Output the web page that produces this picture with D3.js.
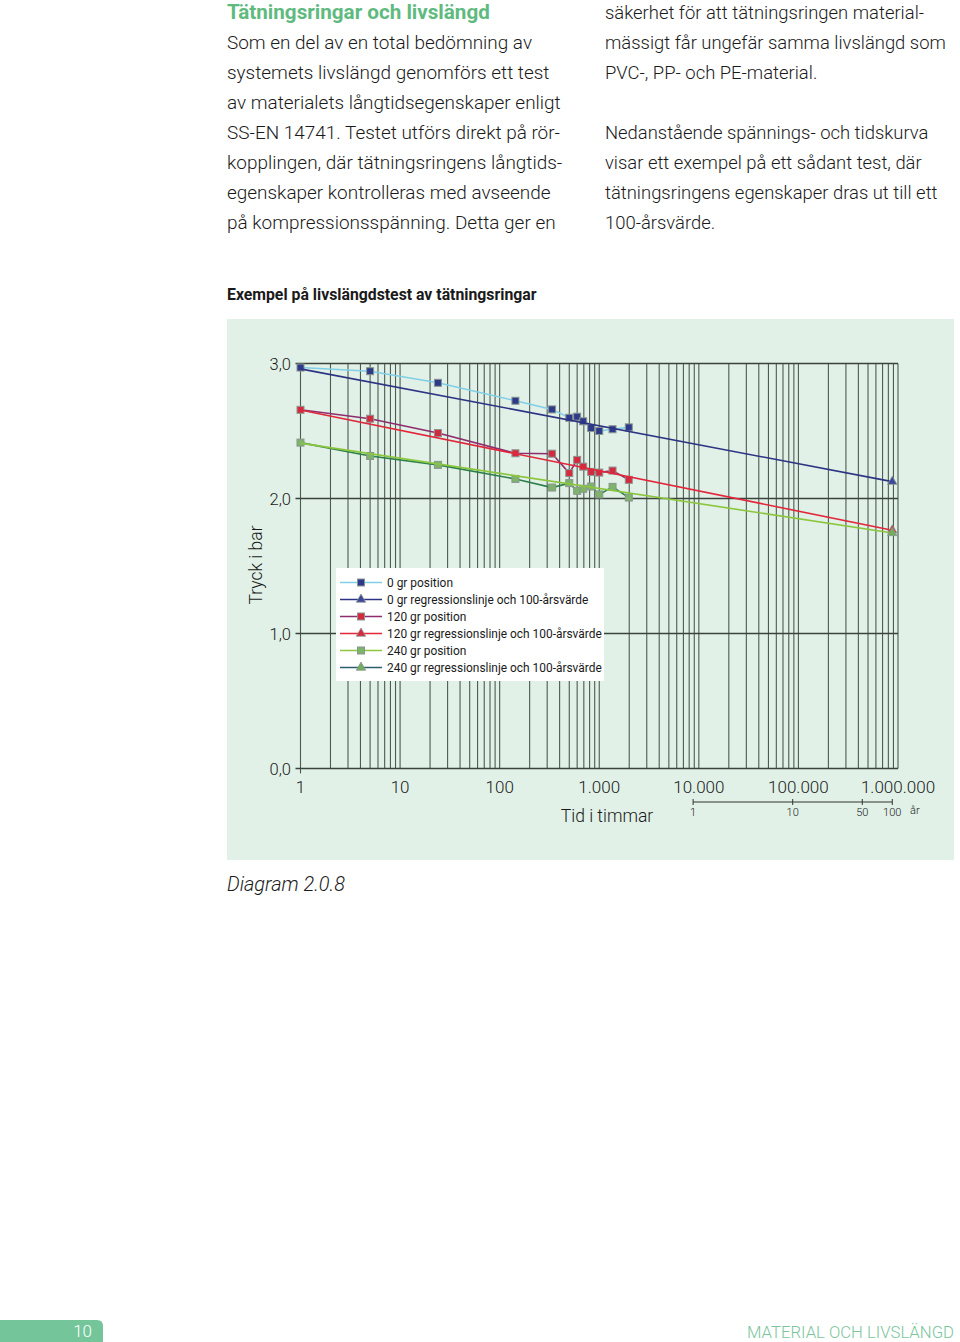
<!DOCTYPE html>
<html><head><meta charset="utf-8">
<script src="https://cdn.jsdelivr.net/npm/d3@7"></script>
<style>body{margin:0;background:#fff}svg{display:block}</style>
</head><body>
<script>
// ---------- DATA ----------
const hours   = [1, 5, 24, 144, 336, 500, 600, 690, 830, 1000, 1360, 1980];
const pos0    = [2.970, 2.943, 2.857, 2.724, 2.660, 2.598, 2.606, 2.572, 2.522, 2.500, 2.513, 2.527];
const pos120  = [2.657, 2.591, 2.485, 2.335, 2.332, 2.188, 2.286, 2.236, 2.197, 2.192, 2.207, 2.138];
const pos240  = [2.414, 2.315, 2.249, 2.145, 2.081, 2.114, 2.057, 2.072, 2.089, 2.030, 2.086, 2.007];
const regHours = [1, 876000];
const reg0    = [2.960, 2.125];
const reg120  = [2.655, 1.765];
const reg240  = [2.410, 1.745];
const yTicks = [0, 1, 2, 3];
const yTickLabels = ["0,0", "1,0", "2,0", "3,0"];
const xTicks = [1, 10, 100, 1000, 10000, 100000, 1000000];
const xTickLabels = ["1", "10", "100", "1.000", "10.000", "100.000", "1.000.000"];
const yearTicks = [1, 10, 50, 100];
const yearTickLabels = ["1", "10", "50", "100"];
const hoursPerYear = 8760;
const legendLabels = [
  "0 gr position",
  "0 gr regressionslinje och 100-årsvärde",
  "120 gr position",
  "120 gr regressionslinje och 100-årsvärde",
  "240 gr position",
  "240 gr regressionslinje och 100-årsvärde"
];
const leftText = [
  "Som en del av en total bedömning av",
  "systemets livslängd genomförs ett test",
  "av materialets långtidsegenskaper enligt",
  "SS-EN 14741. Testet utförs direkt på rör-",
  "kopplingen, där tätningsringens långtids-",
  "egenskaper kontrolleras med avseende",
  "på kompressionsspänning. Detta ger en"
];
const rightText = [
  "säkerhet för att tätningsringen material-",
  "mässigt får ungefär samma livslängd som",
  "PVC-, PP- och PE-material.",
  "",
  "Nedanstående spännings- och tidskurva",
  "visar ett exempel på ett sådant test, där",
  "tätningsringens egenskaper dras ut till ett",
  "100-årsvärde."
];

// ---------- STYLE ----------
const FONT = "Roboto, 'Open Sans', 'Noto Sans', sans-serif";
const GREEN = "#5fba7f";
const series = [
  {vals: pos0,   hrs: hours,    line: "#7fcfe8", fill: "#2d3a8a", marker: "square", legLine: "#7fcfe8"},
  {vals: reg0,   hrs: regHours, line: "#2c3483", fill: "#3c4898", marker: "triangle", legLine: "#2c3483", endOnly: true},
  {vals: pos120, hrs: hours,    line: "#8e2c6e", fill: "#d42a3e", marker: "square", legLine: "#8e2c6e"},
  {vals: reg120, hrs: regHours, line: "#e3263a", fill: "#d42a3e", marker: "triangle", legLine: "#e3263a", endOnly: true},
  {vals: pos240, hrs: hours,    line: "#2b7f4c", fill: "#7db46a", marker: "square", legLine: "#8cc63f"},
  {vals: reg240, hrs: regHours, line: "#8cc63f", fill: "#72ad5e", marker: "triangle", legLine: "#2a5f6e", endOnly: true}
];

const svg = d3.select("body").append("svg").attr("width", 960).attr("height", 1342);
svg.append("rect").attr("width", 960).attr("height", 1342).attr("fill", "#fff");

function fitSize(text, family, weight, style, target, base) {
  const t = svg.append("text").attr("font-family", family).attr("font-weight", weight)
    .attr("font-style", style).attr("font-size", base).text(text);
  const w = t.node().getComputedTextLength();
  t.remove();
  return base * target / w;
}

// ---------- TOP TEXT ----------
const hfs = fitSize("Tätningsringar och livslängd", FONT, 700, "normal", 263, 20);
svg.append("text").attr("x", 227).attr("y", 19).attr("font-family", FONT).attr("font-weight", 700)
  .attr("font-size", hfs).attr("fill", GREEN).text("Tätningsringar och livslängd");

const bfs = fitSize("av materialets långtidsegenskaper enligt", FONT, 300, "normal", 334, 20);
svg.append("g").selectAll("text").data(leftText).join("text")
  .attr("x", 227).attr("y", (d, i) => 49 + i * 30)
  .attr("font-family", FONT).attr("font-weight", 300).attr("font-size", bfs).attr("fill", "#1a1a1a")
  .text(d => d);
const bfs2 = fitSize("mässigt får ungefär samma livslängd som", FONT, 300, "normal", 341, 20);
svg.append("g").selectAll("text").data(rightText).join("text")
  .attr("x", 605).attr("y", (d, i) => 19 + i * 30)
  .attr("font-family", FONT).attr("font-weight", 300).attr("font-size", bfs2).attr("fill", "#1a1a1a")
  .text(d => d);

// ---------- CHART TITLE ----------
const tfs = fitSize("Exempel på livslängdstest av tätningsringar", FONT, 700, "normal", 310, 15);
svg.append("text").attr("x", 227).attr("y", 300).attr("font-family", FONT).attr("font-weight", 700)
  .attr("font-size", tfs).attr("fill", "#1a1a1a").text("Exempel på livslängdstest av tätningsringar");

// ---------- CHART PANEL ----------
svg.append("rect").attr("x", 227).attr("y", 319).attr("width", 727).attr("height", 541).attr("fill", "#e1f1e7");

const x = d3.scaleLog().domain([1, 1e6]).range([300.5, 898]);
const y = d3.scaleLinear().domain([0, 3]).range([768.5, 363.5]);

const GRID = "#4d5a50";
const grid = svg.append("g");
const gridTicks = [];
for (let d = 0; d < 6; d++) for (let k = 1; k <= 9; k++) gridTicks.push(k * Math.pow(10, d));
gridTicks.push(1e6);
grid.selectAll("line.v").data(gridTicks).join("line")
  .attr("x1", d => x(d)).attr("x2", d => x(d))
  .attr("y1", y(3))
  .attr("y2", d => y(0) + ((d === 1) ? 5 : 0))
  .attr("stroke", GRID).attr("stroke-width", 1.1);
grid.selectAll("line.h").data(yTicks).join("line")
  .attr("x1", x(1) - 5).attr("x2", x(1e6))
  .attr("y1", d => y(d)).attr("y2", d => y(d))
  .attr("stroke", "#3a443c").attr("stroke-width", 1.4);

// y labels
svg.append("g").selectAll("text").data(yTicks).join("text")
  .attr("x", 291).attr("y", d => y(d) + 6).attr("text-anchor", "end")
  .attr("font-family", FONT).attr("font-weight", 300).attr("font-size", 16.5).attr("fill", "#1a1a1a")
  .text((d, i) => yTickLabels[i]);
// x labels
svg.append("g").selectAll("text").data(xTicks).join("text")
  .attr("x", d => x(d)).attr("y", 793).attr("text-anchor", "middle")
  .attr("font-family", FONT).attr("font-weight", 300).attr("font-size", 17).attr("fill", "#1a1a1a")
  .text((d, i) => xTickLabels[i]);

svg.append("text").attr("x", 607).attr("y", 822).attr("text-anchor", "middle")
  .attr("font-family", FONT).attr("font-weight", 300).attr("font-size", 17.5).attr("fill", "#1a1a1a")
  .text("Tid i timmar");
svg.append("text").attr("transform", "translate(262,565) rotate(-90)").attr("text-anchor", "middle")
  .attr("font-family", FONT).attr("font-weight", 300).attr("font-size", 17.5).attr("fill", "#1a1a1a")
  .text("Tryck i bar");

// years axis
const yrX = yv => x(yv * hoursPerYear);
svg.append("line").attr("x1", yrX(1)).attr("x2", yrX(100)).attr("y1", 802).attr("y2", 802)
  .attr("stroke", "#333").attr("stroke-width", 1.2);
svg.append("g").selectAll("line").data(yearTicks).join("line")
  .attr("x1", d => yrX(d)).attr("x2", d => yrX(d)).attr("y1", 799).attr("y2", 805)
  .attr("stroke", "#333").attr("stroke-width", 1);
svg.append("g").selectAll("text").data(yearTicks).join("text")
  .attr("x", d => yrX(d)).attr("y", 816).attr("text-anchor", "middle")
  .attr("font-family", FONT).attr("font-weight", 300).attr("font-size", 11).attr("fill", "#1a1a1a")
  .text((d, i) => yearTickLabels[i]);
svg.append("text").attr("x", 910).attr("y", 814)
  .attr("font-family", FONT).attr("font-weight", 300).attr("font-size", 11).attr("fill", "#1a1a1a").text("år");

// ---------- LEGEND ----------
svg.append("rect").attr("x", 336).attr("y", 568).attr("width", 268).attr("height", 113).attr("fill", "#ffffff");
const lfs = fitSize(legendLabels[3], FONT, 400, "normal", 215, 12);

function drawMarker(g, type, cx, cy, fill) {
  if (type === "square") {
    g.append("rect").attr("x", cx - 3.5).attr("y", cy - 3.5).attr("width", 7).attr("height", 7)
      .attr("fill", fill).attr("stroke", "#8a9590").attr("stroke-width", 1);
  } else {
    g.append("path").attr("d", d3.symbol(d3.symbolTriangle, 38)())
      .attr("transform", `translate(${cx},${cy})`)
      .attr("fill", fill).attr("stroke", "#8a9590").attr("stroke-width", 0.8);
  }
}

const leg = svg.append("g");
series.forEach((s, i) => {
  const ly = 582.5 + i * 17;
  leg.append("line").attr("x1", 340).attr("x2", 382).attr("y1", ly).attr("y2", ly)
    .attr("stroke", s.legLine).attr("stroke-width", 1.5);
  drawMarker(leg, s.marker, 361, ly, s.fill);
  leg.append("text").attr("x", 387).attr("y", ly + 4).attr("font-family", FONT)
    .attr("font-size", lfs).attr("fill", "#1a1a1a").text(legendLabels[i]);
});

// ---------- SERIES ----------
const lineGen = d3.line().x(d => x(d[0])).y(d => y(d[1]));
const plot = svg.append("g");
series.forEach(s => {
  const pts = s.hrs.map((h, i) => [h, s.vals[i]]);
  plot.append("path").attr("d", lineGen(pts)).attr("fill", "none")
    .attr("stroke", s.line).attr("stroke-width", 1.6);
  const mpts = s.endOnly ? pts.slice(-1) : pts;
  mpts.forEach(p => drawMarker(plot, s.marker, x(p[0]), y(p[1]), s.fill));
});

// ---------- CAPTION ----------
const cfs = fitSize("Diagram 2.0.8", FONT, 300, "italic", 118, 19);
svg.append("text").attr("x", 227).attr("y", 891).attr("font-family", FONT).attr("font-weight", 300)
  .attr("font-style", "italic").attr("font-size", cfs).attr("fill", "#1a1a1a").text("Diagram 2.0.8");

// ---------- FOOTER ----------
svg.append("path").attr("d", "M0,1320 H97 Q103,1320 103,1326 V1342 H0 Z").attr("fill", "#74c69a");
svg.append("text").attr("x", 92).attr("y", 1337).attr("text-anchor", "end")
  .attr("font-family", FONT).attr("font-weight", 300).attr("font-size", 17).attr("fill", "#fff").text("10");
const ffs = fitSize("MATERIAL OCH LIVSLÄNGD", FONT, 300, "normal", 207, 16);
svg.append("text").attr("x", 954).attr("y", 1338).attr("text-anchor", "end")
  .attr("font-family", FONT).attr("font-weight", 300).attr("font-size", ffs).attr("fill", "#7cc59c")
  .text("MATERIAL OCH LIVSLÄNGD");
</script>
</body></html>
